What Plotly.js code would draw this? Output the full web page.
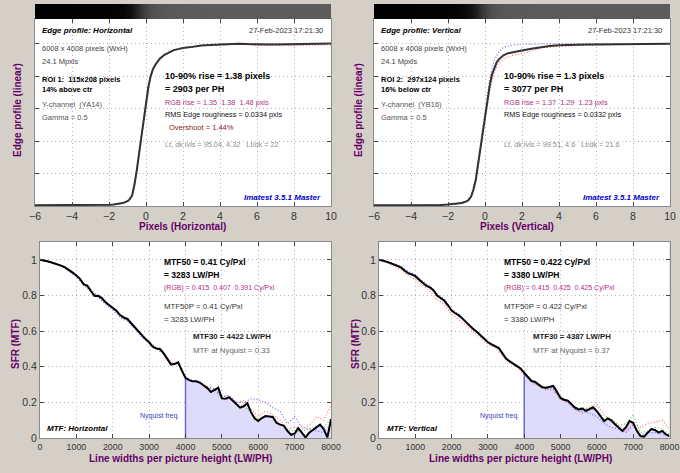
<!DOCTYPE html>
<html><head><meta charset="utf-8">
<script src="https://cdn.plot.ly/plotly-3.0.1.min.js"></script>
<style>html,body{margin:0;padding:0;background:#d4d0c8}#chart{width:680px;height:473px}</style>
</head><body><div id="chart"></div>
<script>
// ---------- Edge profile data ----------
const edgeX = [-6,-5.5,-5,-4.5,-4,-3.5,-3,-2.5,-2,-1.75,-1.5,-1.25,-1,-0.875,-0.75,-0.625,-0.5,-0.375,-0.25,-0.125,0,0.125,0.25,0.375,0.5,0.625,0.75,1,1.25,1.5,1.75,2,2.5,3,3.5,4,4.5,5,5.5,6,6.5,7,7.5,8,8.5,9,9.5,10];
const edgeH = [0.004,0.004,0.004,0.004,0.004,0.005,0.005,0.006,0.008,0.010,0.013,0.018,0.030,0.042,0.065,0.130,0.220,0.320,0.430,0.530,0.630,0.735,0.800,0.845,0.870,0.893,0.910,0.933,0.950,0.962,0.968,0.975,0.982,0.990,0.993,0.996,0.998,1.002,0.999,0.996,0.997,0.996,0.997,0.997,0.998,0.997,0.998,1.003];
const edgeV = [0.004,0.004,0.004,0.004,0.004,0.005,0.005,0.005,0.009,0.011,0.014,0.019,0.028,0.038,0.058,0.100,0.160,0.260,0.350,0.450,0.545,0.650,0.740,0.810,0.850,0.885,0.905,0.930,0.943,0.950,0.955,0.960,0.970,0.980,0.988,0.992,0.995,0.996,0.997,0.997,0.998,0.998,0.998,0.999,0.998,0.999,1.000,1.002];
const edgeXc = [-6,-4,-2,-1.5,-1,-0.75,-0.5,-0.25,0,0.25,0.5,0.75,1,1.5,2,2.5,3,4,5,6,7,8,9,10];
const edgeH_R = [0.004,0.004,0.008,0.013,0.032,0.070,0.230,0.440,0.640,0.810,0.880,0.910,0.935,0.960,0.975,0.980,0.990,0.994,1.000,0.990,0.993,0.990,0.992,0.995];
const edgeH_G = [0.004,0.004,0.008,0.013,0.030,0.065,0.220,0.430,0.630,0.800,0.875,0.910,0.933,0.962,0.975,0.983,0.990,0.997,1.003,0.997,0.997,0.998,0.998,1.002];
const edgeH_B = [0.004,0.004,0.006,0.012,0.025,0.060,0.200,0.420,0.620,0.790,0.870,0.905,0.935,0.965,0.978,0.985,0.992,1.000,1.002,1.000,1.000,0.999,1.000,1.002];
const edgeV_R = [0.004,0.004,0.009,0.016,0.030,0.055,0.150,0.330,0.520,0.710,0.830,0.880,0.910,0.930,0.940,0.955,0.975,0.985,0.990,0.995,0.997,0.998,0.998,1.000];
const edgeV_G = [0.004,0.004,0.009,0.014,0.028,0.058,0.160,0.350,0.545,0.740,0.850,0.905,0.930,0.950,0.960,0.970,0.980,0.992,0.996,0.997,0.998,0.999,0.999,1.002];
const edgeV_B = [0.004,0.004,0.010,0.016,0.030,0.065,0.180,0.380,0.580,0.780,0.900,0.950,0.980,0.993,0.998,1.000,1.000,1.000,1.000,1.000,1.000,1.000,1.000,1.002];

// ---------- MTF data ----------
const mtfF = [0,100,200,300,400,500,600,700,800,900,1000,1100,1200,1300,1400,1500,1600,1700,1800,1900,2000,2100,2200,2300,2400,2500,2600,2700,2800,2900,3000,3100,3200,3300,3400,3500,3600,3700,3800,3900,4000,4100,4200,4300,4400,4500,4600,4700,4800,4900,5000,5100,5200,5300,5400,5500,5600,5700,5800,5900,6000,6100,6200,6300,6400,6500,6600,6700,6800,6900,7000,7100,7200,7300,7400,7500,7600,7700,7800,7900,8000];
const mtfH = [1.000,0.997,0.992,0.986,0.980,0.974,0.966,0.956,0.944,0.928,0.912,0.893,0.862,0.855,0.825,0.797,0.798,0.785,0.762,0.745,0.732,0.715,0.690,0.676,0.668,0.645,0.625,0.598,0.575,0.555,0.537,0.512,0.502,0.500,0.475,0.445,0.413,0.415,0.425,0.378,0.338,0.325,0.318,0.318,0.310,0.295,0.280,0.258,0.270,0.282,0.222,0.220,0.228,0.210,0.190,0.170,0.178,0.195,0.145,0.110,0.095,0.112,0.123,0.120,0.118,0.085,0.075,0.070,0.040,0.018,0.025,0.055,0.030,0.003,0.030,0.045,0.060,0.075,0.050,0.003,0.105];
const mtfV = [1.000,0.996,0.990,0.983,0.975,0.968,0.958,0.940,0.925,0.918,0.908,0.890,0.872,0.855,0.845,0.830,0.800,0.785,0.770,0.745,0.715,0.700,0.688,0.670,0.648,0.632,0.610,0.595,0.575,0.553,0.537,0.525,0.515,0.505,0.475,0.445,0.430,0.415,0.405,0.390,0.366,0.340,0.320,0.315,0.298,0.285,0.282,0.285,0.292,0.260,0.225,0.215,0.210,0.190,0.170,0.160,0.165,0.152,0.160,0.172,0.150,0.123,0.095,0.110,0.098,0.077,0.060,0.040,0.060,0.095,0.085,0.040,0.011,0.008,0.030,0.050,0.045,0.030,0.040,0.020,0.011];
const mtfFc = [0,200,400,600,800,1000,1200,1400,1600,1800,2000,2200,2400,2600,2800,3000,3200,3400,3600,3800,4000,4200,4400,4600,4800,5000,5200,5400,5600,5800,6000,6200,6400,6600,6800,7000,7200,7400,7600,7800,8000];
const mtfH_R = [1.0,0.992,0.981,0.965,0.944,0.910,0.872,0.830,0.800,0.765,0.730,0.695,0.675,0.628,0.580,0.540,0.505,0.478,0.420,0.430,0.340,0.322,0.315,0.290,0.278,0.235,0.235,0.200,0.210,0.160,0.120,0.150,0.130,0.100,0.050,0.060,0.050,0.070,0.120,0.100,0.180];
const mtfH_G = [1.0,0.993,0.980,0.967,0.945,0.913,0.865,0.826,0.798,0.762,0.733,0.690,0.667,0.625,0.574,0.537,0.503,0.475,0.414,0.424,0.338,0.318,0.310,0.280,0.270,0.222,0.228,0.190,0.180,0.145,0.100,0.125,0.115,0.080,0.045,0.040,0.040,0.050,0.070,0.060,0.110];
const mtfH_B = [1.0,0.990,0.978,0.962,0.935,0.905,0.860,0.820,0.790,0.750,0.720,0.675,0.655,0.615,0.565,0.530,0.500,0.470,0.410,0.420,0.335,0.320,0.310,0.285,0.275,0.230,0.240,0.200,0.200,0.220,0.215,0.200,0.170,0.150,0.080,0.120,0.060,0.050,0.040,0.030,0.080];
const mtfV_R = [1.0,0.985,0.968,0.945,0.910,0.890,0.855,0.825,0.775,0.750,0.695,0.665,0.632,0.595,0.560,0.525,0.505,0.465,0.420,0.395,0.355,0.315,0.290,0.270,0.280,0.215,0.200,0.160,0.140,0.175,0.190,0.130,0.100,0.070,0.040,0.080,0.060,0.080,0.090,0.100,0.050];
const mtfV_G = [1.0,0.990,0.976,0.958,0.926,0.908,0.872,0.845,0.800,0.770,0.715,0.688,0.648,0.610,0.575,0.537,0.515,0.475,0.430,0.405,0.366,0.320,0.298,0.280,0.290,0.225,0.210,0.170,0.170,0.165,0.155,0.110,0.110,0.070,0.080,0.130,0.030,0.040,0.060,0.050,0.020];
const mtfV_B = [1.0,0.994,0.980,0.965,0.935,0.918,0.880,0.852,0.810,0.780,0.722,0.695,0.652,0.615,0.577,0.540,0.518,0.478,0.432,0.405,0.365,0.320,0.295,0.275,0.270,0.220,0.200,0.160,0.150,0.140,0.120,0.080,0.060,0.050,0.030,0.070,0.020,0.030,0.030,0.020,0.010];
const nyquistLW = 4000;

// ---------- styling ----------
const FONT = 'Arial, "Liberation Sans", sans-serif';
const W = 680, H = 473;
const px = v => v / W, py = v => 1 - v / H;

function chan(x, y, color, xa, ya) {
  return {x, y, xaxis: xa, yaxis: ya, type: 'scatter', mode: 'lines',
    line: {color, width: 1.2, dash: '1px,2px'}, opacity: 0.7, hoverinfo: 'skip', showlegend: false};
}
function main(x, y, color, xa, ya) {
  return {x, y, xaxis: xa, yaxis: ya, type: 'scatter', mode: 'lines',
    line: {color, width: 2}, hoverinfo: 'skip', showlegend: false};
}
function band(z, xa, ya) {
  return {type: 'heatmap', x: edgeX, y: [0, 1], z: [z], xaxis: xa, yaxis: ya,
    colorscale: [[0, '#000000'], [0.05, '#121212'], [0.3, '#2c2c2c'], [0.7, '#474747'], [1, '#5c5c5c']],
    zmin: 0, zmax: 1, showscale: false, hoverinfo: 'skip'};
}
function nyqFill(f, v, xa, ya) {
  const fx = [], fy = [];
  f.forEach((q, i) => { if (q >= nyquistLW) { fx.push(q); fy.push(v[i]); } });
  return [
    {x: fx, y: fy, xaxis: xa, yaxis: ya, type: 'scatter', mode: 'lines', fill: 'tozeroy',
      fillcolor: '#dedcfa', line: {width: 0, color: 'rgba(0,0,0,0)'}, hoverinfo: 'skip', showlegend: false},
    {x: [nyquistLW, nyquistLW], y: [0, fy[0]], xaxis: xa, yaxis: ya, type: 'scatter', mode: 'lines',
      line: {color: '#6a6ae0', width: 1.5}, hoverinfo: 'skip', showlegend: false}
  ];
}

const traces = [
  band(edgeH, 'x', 'y5'),
  band(edgeV, 'x2', 'y6'),
  chan(edgeXc, edgeH_R, '#ff3030', 'x', 'y'),
  chan(edgeXc, edgeH_G, '#20b020', 'x', 'y'),
  chan(edgeXc, edgeH_B, '#3030ff', 'x', 'y'),
  main(edgeX, edgeH, '#333333', 'x', 'y'),
  chan(edgeXc, edgeV_R, '#ff3030', 'x2', 'y2'),
  chan(edgeXc, edgeV_G, '#20b020', 'x2', 'y2'),
  chan(edgeXc, edgeV_B, '#3030ff', 'x2', 'y2'),
  main(edgeX, edgeV, '#333333', 'x2', 'y2'),
  ...nyqFill(mtfF, mtfH, 'x3', 'y3'),
  chan(mtfFc, mtfH_R, '#ff3030', 'x3', 'y3'),
  chan(mtfFc, mtfH_G, '#20b020', 'x3', 'y3'),
  chan(mtfFc, mtfH_B, '#3030ff', 'x3', 'y3'),
  main(mtfF, mtfH, '#000000', 'x3', 'y3'),
  ...nyqFill(mtfF, mtfV, 'x4', 'y4'),
  chan(mtfFc, mtfV_R, '#ff3030', 'x4', 'y4'),
  chan(mtfFc, mtfV_G, '#20b020', 'x4', 'y4'),
  chan(mtfFc, mtfV_B, '#3030ff', 'x4', 'y4'),
  main(mtfF, mtfV, '#000000', 'x4', 'y4')
];

const axBase = {
  showgrid: true, gridcolor: '#b4b4b4', griddash: '1px,3px', gridwidth: 1,
  zeroline: false, showline: true, linecolor: '#8a8a8a', linewidth: 1, mirror: 'ticks',
  ticks: 'inside', ticklen: 4, tickcolor: '#444', ticklabeloverflow: 'allow',
  tickfont: {family: FONT, size: 10.5, color: '#333'}
};
const xEdge = d => Object.assign({}, axBase, {domain: d, range: [-6, 10], tickvals: [-6,-4,-2,0,2,4,6,8,10]});
const yEdge = d => Object.assign({}, axBase, {domain: d, range: [0, 1.154], tickvals: [0,0.2,0.4,0.6,0.8,1.0], showticklabels: false});
const xMtf = d => Object.assign({}, axBase, {domain: d, range: [0, 8000], tickvals: [0,1000,2000,3000,4000,5000,6000,7000,8000], tickfont: {family: FONT, size: 8.8, color: '#333'}});
const yMtf = d => Object.assign({}, axBase, {domain: d, range: [0, 1.1], tickvals: [0,0.2,0.4,0.6,0.8,1], tickfont: {family: FONT, size: 10.5, color: '#333'}});
const yBand = (d, anchor) => ({domain: d, range: [0, 1], visible: false, anchor, fixedrange: true});

const topD = [py(206), py(19)], botD = [py(438), py(242)];

const A = [];
function t(x, y, text, size, color, opts) {
  A.push(Object.assign({xref: 'paper', yref: 'paper', x: px(x), y: py(y), text,
    showarrow: false, xanchor: 'left', yanchor: 'middle',
    font: {family: FONT, size, color}}, opts || {}));
}
const TITLE = '#660066';
// Axis titles
t(182, 226, '<b>Pixels (Horizontal)</b>', 10, TITLE, {xanchor: 'center'});
t(517, 226, '<b>Pixels (Vertical)</b>', 10, TITLE, {xanchor: 'center'});
t(180, 458, '<b>Line widths per picture height (LW/PH)</b>', 10, TITLE, {xanchor: 'center'});
t(520, 458, '<b>Line widths per picture height (LW/PH)</b>', 10, TITLE, {xanchor: 'center'});
t(18, 110, '<b>Edge profile (linear)</b>', 10, TITLE, {xanchor: 'center', textangle: -90});
t(359, 110, '<b>Edge profile (linear)</b>', 10, TITLE, {xanchor: 'center', textangle: -90});
t(15, 344, '<b>SFR (MTF)</b>', 10, TITLE, {xanchor: 'center', textangle: -90});
t(355, 344, '<b>SFR (MTF)</b>', 10, TITLE, {xanchor: 'center', textangle: -90});

// Edge panels
const edgeInfo = [
  {ox: 0, title: 'Edge profile: Horizontal', roi: 'ROI 1:  115x208 pixels', pos: '14% above ctr', ch: 'Y-channel  (YA14)',
   rise: '10-90% rise = 1.38 pixels', ph: '= 2903 per PH', rgb: 'RGB rise = 1.35  1.38  1.48 pxls',
   rms: 'RMS Edge roughness = 0.0334 pxls', over: 'Overshoot = 1.44%', lvl: 'Lt, dk lvls = 95.04, 4.32   Lt/dk = 22'},
  {ox: 339, title: 'Edge profile: Vertical', roi: 'ROI 2:  297x124 pixels', pos: '16% below ctr', ch: 'Y-channel  (YB16)',
   rise: '10-90% rise = 1.3 pixels', ph: '= 3077 per PH', rgb: 'RGB rise = 1.37  1.29  1.23 pxls',
   rms: 'RMS Edge roughness = 0.0332 pxls', over: null, lvl: 'Lt, dk lvls = 99.51, 4.6   Lt/dk = 21.6'}
];
edgeInfo.forEach(e => {
  const o = e.ox;
  t(o + 40, 31, '<b><i>' + e.title + '</i></b>', 8, '#000');
  t(o + 325, 30, '27-Feb-2023 17:21:30', 7.5, '#333', {xanchor: 'right'});
  t(o + 40, 48, '6008 x 4008 pixels (WxH)', 7.5, '#444');
  t(o + 40, 61, '24.1 Mpxls', 7.5, '#444');
  t(o + 40, 79, '<b>' + e.roi + '</b>', 7.5, '#000');
  t(o + 40, 90, '<b>' + e.pos + '</b>', 7.5, '#000');
  t(o + 40, 105, e.ch, 7.5, '#555');
  t(o + 40, 117, 'Gamma = 0.5', 7.5, '#555');
  t(o + 163, 76, '<b>' + e.rise + '</b>', 9, '#000');
  t(o + 163, 89, '<b>' + e.ph + '</b>', 9, '#000');
  t(o + 163, 102, e.rgb, 7.3, '#b0307f');
  t(o + 163, 115, e.rms, 7.3, '#111');
  if (e.over) t(o + 167, 128, e.over, 7.5, '#8b1a1a');
  t(o + 163, 144, e.lvl, 7.3, '#8c8c8c');
  t(o + 323, 197, '<b><i>Imatest 3.5.1 Master</i></b>', 8, '#0000cc', {xanchor: 'right'});
});

// MTF panels
const mtfInfo = [
  {ox: 0, m50: 'MTF50 = 0.41 Cy/Pxl', lw: '= 3283 LW/PH', rgb: '(RGB) = 0.415  0.407  0.391 Cy/Pxl',
   m50p: 'MTF50P = 0.41 Cy/Pxl', m30: 'MTF30 = 4422 LW/PH', nyq: 'MTF at Nyquist = 0.33', name: 'MTF: Horizontal'},
  {ox: 340, m50: 'MTF50 = 0.422 Cy/Pxl', lw: '= 3380 LW/PH', rgb: '(RGB) = 0.415  0.425  0.425 Cy/Pxl',
   m50p: 'MTF50P = 0.422 Cy/Pxl', m30: 'MTF30 = 4387 LW/PH', nyq: 'MTF at Nyquist = 0.37', name: 'MTF: Vertical'}
];
mtfInfo.forEach(m => {
  const o = m.ox;
  t(o + 162, 262, '<b>' + m.m50 + '</b>', 8.5, '#000');
  t(o + 162, 275, '<b>' + m.lw + '</b>', 8.5, '#000');
  t(o + 162, 288, m.rgb, 7, '#b0307f');
  t(o + 162, 306, m.m50p, 7.8, '#333');
  t(o + 162, 319, m.lw, 7.8, '#333');
  t(o + 191, 336, '<b>' + m.m30 + '</b>', 7.8, '#222');
  t(o + 191, 350, m.nyq, 7.8, '#666');
  t(o + 45, 428, '<b><i>' + m.name + '</i></b>', 8, '#000');
  t(o + 181, 416, 'Nyquist freq.', 7, '#4040c0', {xanchor: 'right'});
});

const layout = {
  width: W, height: H, margin: {l: 0, r: 0, t: 0, b: 0},
  paper_bgcolor: '#d4d0c8', plot_bgcolor: '#ffffff', showlegend: false,
  font: {family: FONT},
  xaxis: Object.assign(xEdge([px(35), px(331)]), {anchor: 'y'}),
  yaxis: Object.assign(yEdge(topD), {anchor: 'x'}),
  xaxis2: Object.assign(xEdge([px(374), px(670)]), {anchor: 'y2'}),
  yaxis2: Object.assign(yEdge(topD), {anchor: 'x2'}),
  xaxis3: Object.assign(xMtf([px(40), px(331)]), {anchor: 'y3'}),
  yaxis3: Object.assign(yMtf(botD), {anchor: 'x3'}),
  xaxis4: Object.assign(xMtf([px(379), px(669.5)]), {anchor: 'y4'}),
  yaxis4: Object.assign(yMtf(botD), {anchor: 'x4'}),
  yaxis5: yBand([py(19), py(4)], 'x'),
  yaxis6: yBand([py(19), py(4)], 'x2'),
  annotations: A
};
Plotly.newPlot('chart', traces, layout, {staticPlot: true, displayModeBar: false});
</script></body></html>
